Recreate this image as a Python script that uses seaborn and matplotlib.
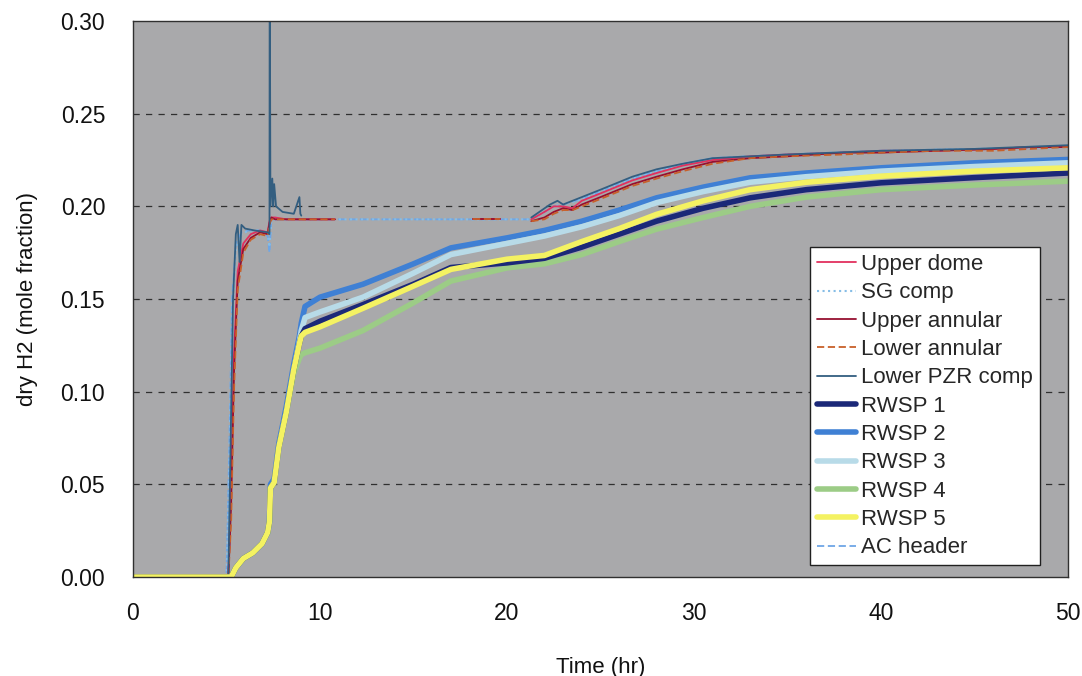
import numpy as np
import pandas as pd
import matplotlib
matplotlib.use("Agg")
import matplotlib.pyplot as plt
from matplotlib.lines import Line2D
import seaborn as sns

# ---------------- data ----------------
nan = np.nan
# gas-space compartments (segments separated by NaN gaps)
t_gas = [0, 5.1, 5.25, 5.4, 5.6, 5.9, 6.3, 6.8, 7.2, 7.3, 7.4, 7.6, 8.2, 9.5, 10.8,
         nan,
         18.2, 19.6,
         nan,
         21.3, 22.0, 22.5, 23.0, 23.5, 24.0, 25.0, 26.7, 28.0, 29.4, 31.0, 33.0, 35.0,
         38.0, 40.0, 43.0, 46.0, 48.0, 50.0]
upper_dome = [0, 0, 0.05, 0.12, 0.165, 0.180, 0.185, 0.187, 0.186, 0.192, 0.194, 0.194,
              0.193, 0.193, 0.193,
              nan,
              0.193, 0.193,
              nan,
              0.193, 0.197, 0.200, 0.200, 0.199, 0.203, 0.207, 0.214, 0.218, 0.222, 0.225,
              0.227, 0.228, 0.229, 0.230, 0.230, 0.231, 0.232, 0.232]
upper_annular = [0, 0, 0.04, 0.11, 0.160, 0.177, 0.183, 0.186, 0.185, 0.191, 0.194, 0.193,
                 0.193, 0.193, 0.193,
                 nan,
                 0.193, 0.193,
                 nan,
                 0.192, 0.194, 0.197, 0.199, 0.198, 0.201, 0.205, 0.212, 0.216, 0.220, 0.224,
                 0.226, 0.227, 0.229, 0.229, 0.230, 0.231, 0.232, 0.232]
lower_annular = [0, 0, 0.03, 0.10, 0.155, 0.175, 0.182, 0.185, 0.184, 0.190, 0.193, 0.193,
                 0.193, 0.193, 0.193,
                 nan,
                 0.193, 0.193,
                 nan,
                 0.192, 0.193, 0.196, 0.198, 0.198, 0.200, 0.204, 0.211, 0.215, 0.219, 0.223,
                 0.226, 0.227, 0.228, 0.229, 0.230, 0.230, 0.231, 0.232]
t_pzr = [0, 5.1, 5.2, 5.35, 5.5, 5.6, 5.7, 5.8, 6.0, 6.5, 7.2, 7.3, 7.31, 7.35, 7.45, 7.5,
         7.55, 7.65, 8.0, 8.6, 8.9, 8.95, 9.0,
         nan,
         21.3, 22.3, 22.7, 23.0, 23.5, 24.0, 25.0, 26.7, 28.0, 29.4, 31.0, 33.0, 35.0,
         40.0, 45.0, 50.0]
lower_pzr = [0, 0, 0.06, 0.15, 0.185, 0.190, 0.170, 0.190, 0.188, 0.187, 0.186, 0.185,
             0.350, 0.200, 0.215, 0.200, 0.212, 0.200, 0.197, 0.196, 0.205, 0.196, 0.195,
             nan,
             0.194, 0.201, 0.203, 0.201, 0.203, 0.205, 0.209, 0.216, 0.220, 0.223, 0.226,
             0.227, 0.228, 0.230, 0.231, 0.233]
t_ac = [0, 5.0, 5.15, 5.3, 5.5, 5.8, 6.2, 6.8, 7.2, 7.3, 7.4, 11.0, 16.0, 21.3, 22.0, 22.5,
        23.0, 24.0, 25.0, 26.7, 28.0, 29.4, 31.0, 33.0, 35.0, 40.0, 45.0, 50.0]
ac_header = [0, 0, 0.07, 0.15, 0.180, 0.186, 0.187, 0.187, 0.184, 0.175, 0.193, 0.193,
             0.193, 0.193, 0.197, 0.200, 0.201, 0.204, 0.208, 0.215, 0.219, 0.223, 0.226,
             0.227, 0.228, 0.230, 0.231, 0.232]
sg_comp = [0, 0, 0.06, 0.14, 0.178, 0.185, 0.187, 0.187, 0.185, 0.178, 0.193, 0.193,
           0.193, 0.193, 0.197, 0.200, 0.201, 0.204, 0.208, 0.215, 0.219, 0.223, 0.226,
           0.227, 0.228, 0.230, 0.231, 0.232]

# RWSP (water pool) series
t_rwsp = [0, 5.25, 5.5, 5.9, 6.4, 6.9, 7.2, 7.3, 7.35, 7.55, 7.8, 8.2, 8.6, 8.9, 9.0, 9.2,
          10.0, 12.3, 15.0, 17.0, 20.0, 22.0, 24.0, 26.0, 28.0, 30.5, 33.0, 36.0, 40.0,
          45.0, 50.0]
rwsp_1 = [0, 0, 0.005, 0.010, 0.013, 0.018, 0.024, 0.030, 0.048, 0.051, 0.070, 0.089, 0.112,
          0.126, 0.130, 0.134, 0.138, 0.147, 0.158, 0.167, 0.1695, 0.172, 0.178, 0.185,
          0.192, 0.199, 0.2046, 0.209, 0.2127, 0.2155, 0.218]
rwsp_2 = [0, 0, 0.005, 0.010, 0.013, 0.018, 0.024, 0.030, 0.050, 0.053, 0.072, 0.092, 0.115,
          0.130, 0.137, 0.146, 0.151, 0.158, 0.169, 0.1776, 0.183, 0.187, 0.192, 0.198,
          0.2046, 0.2104, 0.2154, 0.218, 0.2208, 0.2235, 0.2253]
rwsp_3 = [0, 0, 0.005, 0.010, 0.013, 0.018, 0.024, 0.030, 0.048, 0.051, 0.070, 0.089, 0.112,
          0.127, 0.133, 0.140, 0.143, 0.151, 0.164, 0.174, 0.180, 0.184, 0.189, 0.195,
          0.202, 0.208, 0.213, 0.216, 0.219, 0.2215, 0.2235]
rwsp_4 = [0, 0, 0.005, 0.010, 0.013, 0.018, 0.024, 0.030, 0.048, 0.051, 0.070, 0.089, 0.110,
          0.118, 0.120, 0.121, 0.1235, 0.133, 0.148, 0.1597, 0.1668, 0.169, 0.174, 0.181,
          0.1877, 0.194, 0.200, 0.205, 0.209, 0.2115, 0.2136]
rwsp_5 = [0, 0, 0.005, 0.010, 0.013, 0.018, 0.024, 0.030, 0.048, 0.051, 0.070, 0.089, 0.112,
          0.126, 0.130, 0.132, 0.135, 0.145, 0.157, 0.166, 0.1715, 0.1735, 0.181, 0.188,
          0.1957, 0.203, 0.209, 0.213, 0.2163, 0.219, 0.2208]

x_ticks = [0, 10, 20, 30, 40, 50]
y_ticks = [0.00, 0.05, 0.10, 0.15, 0.20, 0.25, 0.30]

series = [
    # label, time, values, color, linewidth, linestyle
    ("Upper dome", t_gas, upper_dome, "#e2305e", 1.3, "-"),
    ("SG comp", t_ac, sg_comp, "#86bde6", 1.5, ":"),
    ("Upper annular", t_gas, upper_annular, "#961030", 1.3, "-"),
    ("Lower annular", t_gas, lower_annular, "#c8602a", 1.3, (0, (4, 2))),
    ("Lower PZR comp", t_pzr, lower_pzr, "#335e80", 1.3, "-"),
    ("RWSP 1", t_rwsp, rwsp_1, "#1b2878", 4.0, "-"),
    ("RWSP 2", t_rwsp, rwsp_2, "#3f80d4", 4.0, "-"),
    ("RWSP 3", t_rwsp, rwsp_3, "#b8dbe8", 4.0, "-"),
    ("RWSP 4", t_rwsp, rwsp_4, "#9ccc86", 4.0, "-"),
    ("RWSP 5", t_rwsp, rwsp_5, "#f4f262", 4.0, "-"),
    ("AC header", t_ac, ac_header, "#6ea6e6", 1.3, (0, (4, 2))),
]

# ---------------- plotting ----------------
sns.set_style("white")
plt.rcParams["font.family"] = ["Liberation Sans", "DejaVu Sans"]

fig = plt.figure(figsize=(10.82, 6.76), dpi=100)
ax = fig.add_axes([0.1229, 0.1464, 0.8642, 0.8225])
ax.set_facecolor("#a9a9ab")

# draw order: light-blue header lines first, then gas lines, then pool lines (yellow on top)
draw_order = [10, 1, 0, 2, 3, 4, 6, 7, 8, 5, 9]
for i in draw_order:
    label, t, v, color, lw, ls = series[i]
    df = pd.DataFrame({"t": t, "v": v})
    seg = df["t"].isna().cumsum()
    for _, part in df.groupby(seg):
        part = part.dropna()
        if len(part) < 2:
            continue
        sns.lineplot(data=part, x="t", y="v", ax=ax, color=color, linewidth=lw,
                     linestyle=ls, estimator=None, sort=False, legend=False)

# legend in reference order
leg_handles = [Line2D([0], [0], color=c, lw=lw, linestyle=ls) for (_, _, _, c, lw, ls) in series]
leg_labels = [s[0] for s in series]
leg = ax.legend(leg_handles, leg_labels, loc="lower right", bbox_to_anchor=(0.970, 0.0216),
                borderaxespad=0, fontsize=16, frameon=True, fancybox=False,
                handlelength=1.75, handletextpad=0.25, labelspacing=0.33,
                borderpad=0.3)
leg.get_frame().set_edgecolor("#202020")
leg.get_frame().set_linewidth(1.0)
leg.get_frame().set_facecolor("white")
leg.get_frame().set_alpha(1)

ax.set_xlim(0, 50)
ax.set_ylim(0, 0.30)
ax.set_xticks(x_ticks)
ax.set_yticks(y_ticks)
ax.set_xticklabels([str(x) for x in x_ticks])
ax.set_yticklabels([f"{y:.2f}" for y in y_ticks])
ax.tick_params(axis="both", direction="in", length=5, width=1, color="#303030",
               labelsize=16.5, pad=18, labelcolor="#111111")
ax.tick_params(axis="y", pad=20)

for y in y_ticks[1:-1]:
    ax.axhline(y, color="#303030", linestyle=(0, (5, 5)), linewidth=0.9, zorder=0.5)

for sp in ax.spines.values():
    sp.set_visible(True)
    sp.set_color("#303030")
    sp.set_linewidth(1.0)

ax.set_xlabel("Time (hr)", fontsize=16, labelpad=23, color="#111111")
ax.set_ylabel("dry H2 (mole fraction)", fontsize=16, labelpad=16, color="#111111")

fig.savefig("out.png", dpi=100, facecolor="white")
